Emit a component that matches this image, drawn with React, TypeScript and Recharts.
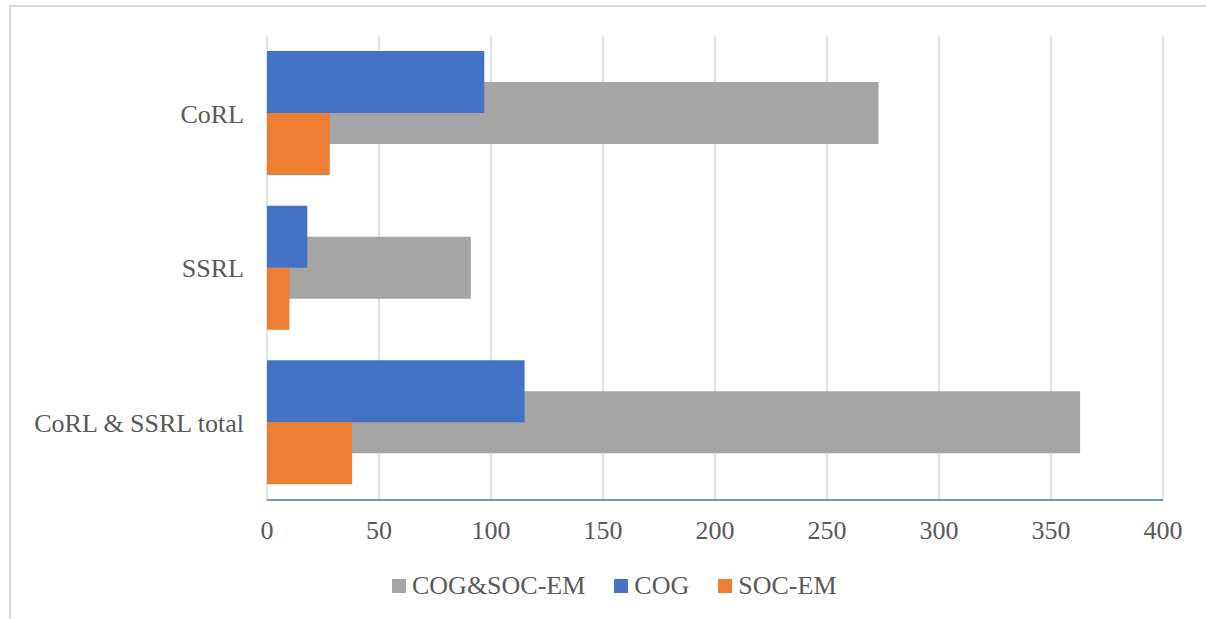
import {
  Bar,
  BarChart,
  CartesianGrid,
  Legend,
  XAxis,
  YAxis,
} from 'recharts';

// Categories, top to bottom
const categories = ['CoRL', 'SSRL', 'CoRL & SSRL total'];

// Series values read off the picture
const cogSocEm = [273, 91, 363];
const cog = [97, 18, 115];
const socEm = [28, 10, 38];

const xTicks = [0, 50, 100, 150, 200, 250, 300, 350, 400];

const data = categories.map((name, i) => ({
  name,
  both: cogSocEm[i],
  cog: cog[i],
  soc: socEm[i],
}));

const FONT = "'Liberation Serif', 'Times New Roman', serif";
const TEXT = '#595959';

const legendItems = [
  { label: 'COG&SOC-EM', color: '#A5A5A5' },
  { label: 'COG', color: '#4472C4' },
  { label: 'SOC-EM', color: '#ED7D31' },
];

function LegendContent() {
  return (
    <div
      style={{
        display: 'flex',
        alignItems: 'center',
        height: '40px',
        paddingLeft: '392px',
        fontFamily: FONT,
        fontSize: '26px',
        color: TEXT,
      }}
    >
      {legendItems.map((item) => (
        <div
          key={item.label}
          style={{ display: 'flex', alignItems: 'center', marginRight: '29px' }}
        >
          <span
            style={{
              width: '14px',
              height: '14px',
              backgroundColor: item.color,
              marginRight: '6px',
              display: 'inline-block',
            }}
          />
          <span style={{ lineHeight: '40px' }}>{item.label}</span>
        </div>
      ))}
    </div>
  );
}

export default function App() {
  return (
    <div
      style={{
        position: 'absolute',
        left: 0,
        top: 0,
        width: '1206px',
        height: '619px',
        background: '#FFFFFF',
        overflow: 'hidden',
      }}
    >
      {/* Chart frame (only top and left edges are visible) */}
      <div
        style={{
          position: 'absolute',
          left: '9px',
          top: '5px',
          width: '1210px',
          height: '630px',
          borderTop: '2px solid #D9D9D9',
          borderLeft: '2px solid #D9D9D9',
        }}
      />
      <BarChart
        width={1206}
        height={619}
        data={data}
        layout="vertical"
        margin={{ top: 36, right: 43, left: 0, bottom: 13 }}
        barGap={0}
        style={{ fontFamily: FONT }}
      >
        <CartesianGrid
          horizontal={false}
          stroke="#D9D9D9"
          strokeWidth={1.5}
          verticalValues={xTicks}
        />
        <XAxis
          type="number"
          domain={[0, 400]}
          ticks={xTicks}
          interval={0}
          height={66}
          tickLine={false}
          tickSize={0}
          tickMargin={21}
          axisLine={{ stroke: '#4472C4', strokeWidth: 1.5 }}
          tick={{ fill: TEXT, fontSize: 26, fontFamily: FONT }}
        />
        <YAxis
          yAxisId="front"
          type="category"
          dataKey="name"
          width={267}
          tickLine={false}
          tickSize={0}
          tickMargin={23}
          axisLine={false}
          tick={{ fill: TEXT, fontSize: 26, fontFamily: FONT }}
        />
        {/* second category axis so the grey series is centred in its band, behind the others */}
        <YAxis yAxisId="back" type="category" dataKey="name" width={0} hide />
        <Legend
          verticalAlign="bottom"
          height={40}
          wrapperStyle={{ left: 0, width: 1206 }}
          content={<LegendContent />}
        />
        <Bar
          yAxisId="back"
          dataKey="both"
          name="COG&SOC-EM"
          fill="#A5A5A5"
          barSize={62}
          isAnimationActive={false}
        />
        <Bar
          yAxisId="front"
          dataKey="cog"
          name="COG"
          fill="#4472C4"
          barSize={62}
          isAnimationActive={false}
        />
        <Bar
          yAxisId="front"
          dataKey="soc"
          name="SOC-EM"
          fill="#ED7D31"
          barSize={62}
          isAnimationActive={false}
        />
      </BarChart>
    </div>
  );
}
